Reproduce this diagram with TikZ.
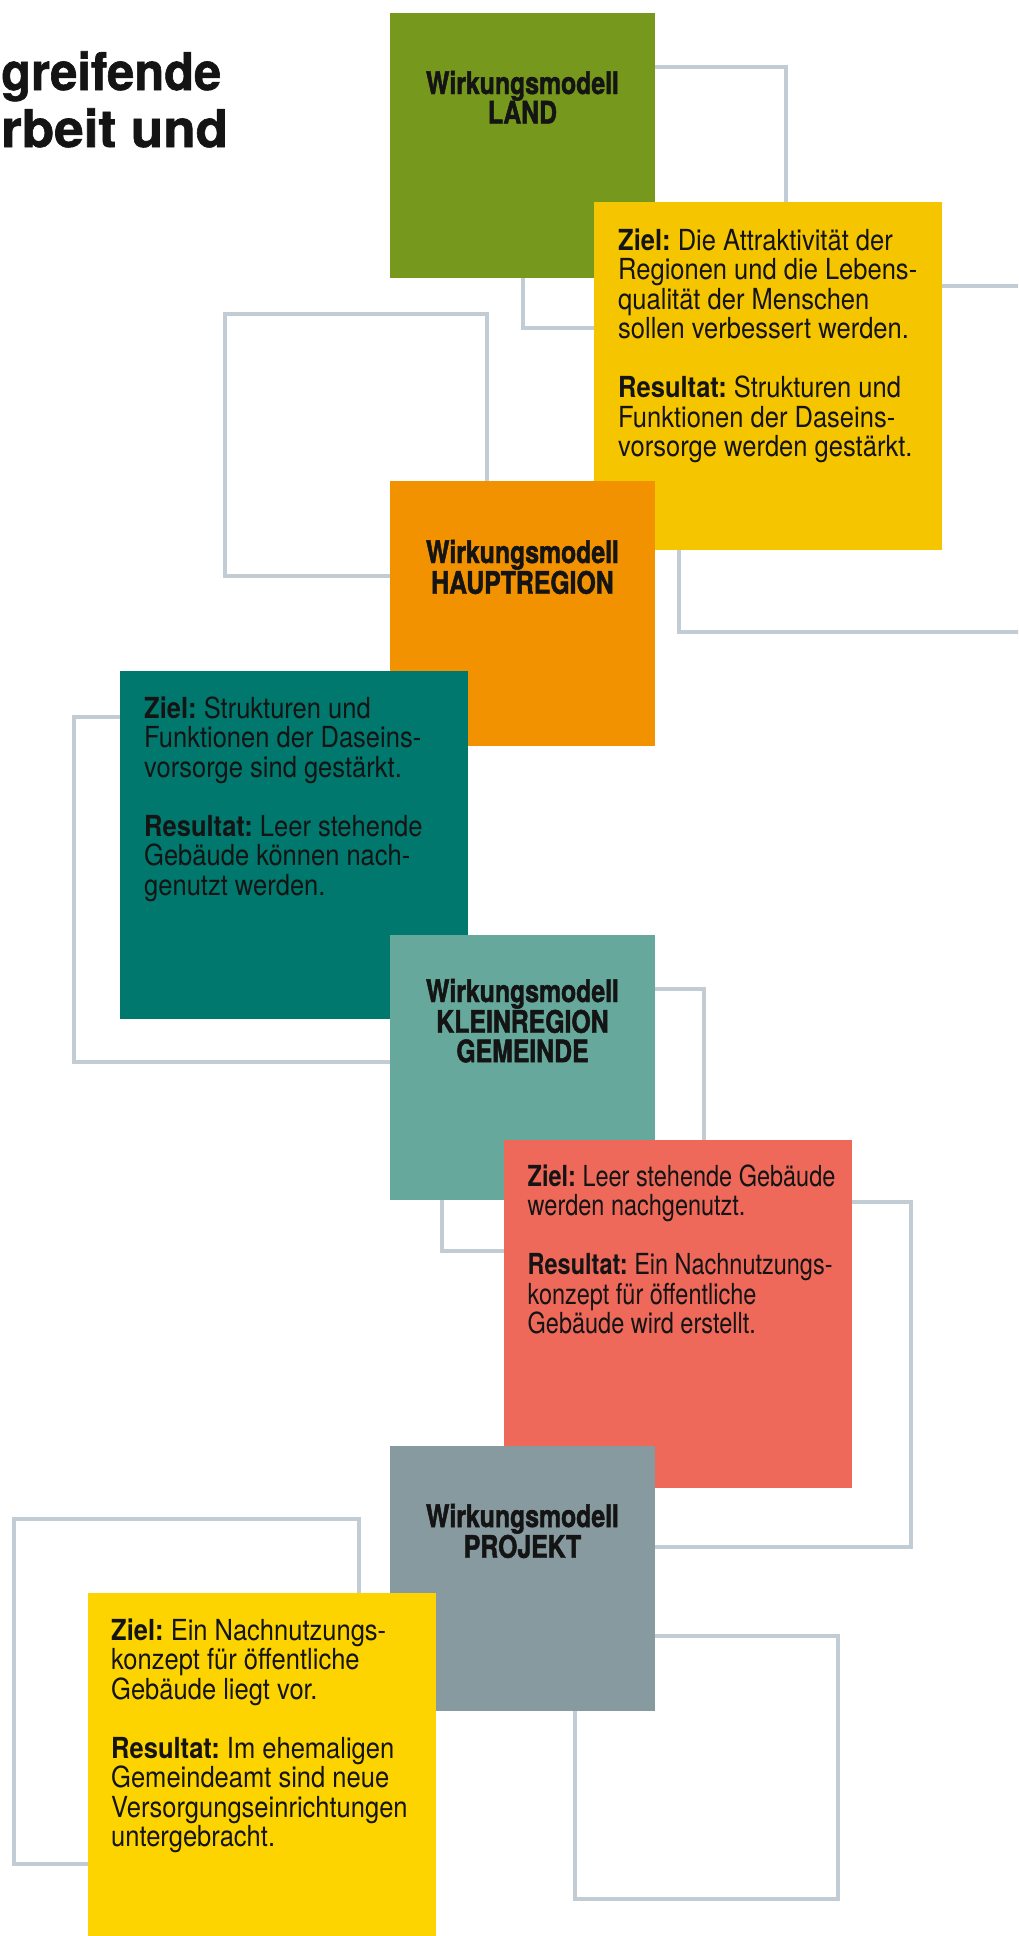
\documentclass[tikz,border=0pt]{standalone}
\usepackage{fontspec}
\setmainfont{TeX Gyre Heros}[FakeStretch=0.88]
\newfontfamily\bodynarrow{TeX Gyre Heros}[FakeStretch=0.81]
\newfontfamily\hdfont{TeX Gyre Heros}[FakeStretch=0.8, BoldFeatures={FakeBold=1.5}]
\newfontfamily\ttlfont{TeX Gyre Heros}[FakeStretch=0.94, BoldFeatures={FakeBold=1.2}]
\newfontfamily\ttlfontw{TeX Gyre Heros}[FakeStretch=1.02, BoldFeatures={FakeBold=1.2}]
\definecolor{cGreen}{HTML}{76981C}
\definecolor{cYelA}{HTML}{F5C500}
\definecolor{cOrange}{HTML}{F29200}
\definecolor{cTealD}{HTML}{00786D}
\definecolor{cTealL}{HTML}{66A99C}
\definecolor{cSalmon}{HTML}{EE695A}
\definecolor{cGrayB}{HTML}{869AA0}
\definecolor{cYelB}{HTML}{FDD400}
\definecolor{cLine}{HTML}{C2CCD5}
\definecolor{cInk}{HTML}{141414}
\frenchspacing
\newcommand{\bodytext}[1]{\parbox[t]{380pt}{\frenchspacing\fontsize{29}{29.5}\selectfont\raggedright #1}}
\newcommand{\headtext}[1]{\parbox[t]{265pt}{\hdfont\bfseries\fontsize{31}{29.5}\selectfont\centering #1}}
\newcommand{\gap}{\\[29.5pt]}
\tikzset{
  modelbox/.style={draw=none, inner sep=0pt, anchor=north west, minimum width=265pt, minimum height=265pt},
  textbox/.style={draw=none, inner sep=0pt, anchor=north west, minimum width=348pt, minimum height=348pt},
  outline/.style={draw=cLine, line width=3.2pt},
  headlbl/.style={inner sep=0pt, anchor=base, text=cInk},
  bodylbl/.style={inner sep=0pt, anchor=base west, text=cInk},
  titlelbl/.style={inner sep=0pt, anchor=base west, text=cInk}
}
\begin{document}
\begin{tikzpicture}[x=1pt, y=-1pt]
\useasboundingbox (0,0) rectangle (1018,1936);
\clip (0,0) rectangle (1018,1936);
\fill[white] (0,0) rectangle (1018,1936);

% outline squares (background)
\draw[outline] (523,67) rectangle (786,328);
\draw[outline] (225,314) rectangle (487,576);
\draw[outline] (679,286) rectangle (1030,632);
\draw[outline] (74,717) rectangle (419,1062);
\draw[outline] (442,989) rectangle (704,1251);
\draw[outline] (566,1202) rectangle (911,1547);
\draw[outline] (14,1519) rectangle (359,1864);
\draw[outline] (575,1636) rectangle (838,1899);

% title fragment
\node[titlelbl, font=\ttlfont\bfseries\fontsize{52}{57}\selectfont] (title1) at (1,90) {greifende};
\node[titlelbl, font=\ttlfontw\bfseries\fontsize{52}{57}\selectfont] (title2) at (1,147) {rbeit und};

% LAND
\node[modelbox, fill=cGreen] (land) at (390,13) {};
\node[headlbl] (landT) at (522.5,94) {\headtext{Wirkungsmodell\\LAND}};
\node[textbox, fill=cYelA] (zielA) at (594,202) {};
\node[bodylbl] (zielAT) at (618,250) {\bodytext{\textbf{Ziel:} Die Attraktivität der\\Regionen und die Lebens-\\qualität der Menschen\\sollen verbessert werden.\gap\textbf{Resultat:} Strukturen und\\Funktionen der Daseins-\\vorsorge werden gestärkt.}};

% HAUPTREGION
\node[modelbox, fill=cOrange] (haupt) at (390,481) {};
\node[headlbl] (hauptT) at (522.5,563) {\headtext{Wirkungsmodell\\HAUPTREGION}};
\node[textbox, fill=cTealD] (zielB) at (120,671) {};
\node[bodylbl] (zielBT) at (144,718) {\bodytext{\textbf{Ziel:} Strukturen und\\Funktionen der Daseins-\\vorsorge sind gestärkt.\gap\textbf{Resultat:} Leer stehende\\Gebäude können nach-\\genutzt werden.}};

% KLEINREGION
\node[modelbox, fill=cTealL] (klein) at (390,935) {};
\node[headlbl] (kleinT) at (522.5,1002) {\headtext{Wirkungsmodell\\KLEINREGION\\GEMEINDE}};
\node[textbox, fill=cSalmon] (zielC) at (504,1140) {};
\node[bodylbl] (zielCT) at (527.5,1186) {\bodytext{\bodynarrow\textbf{Ziel:} Leer stehende Gebäude\\werden nachgenutzt.\gap\textbf{Resultat:} Ein Nachnutzungs-\\konzept für öffentliche\\Gebäude wird erstellt.}};

% PROJEKT
\node[modelbox, fill=cGrayB] (projekt) at (390,1446) {};
\node[headlbl] (projektT) at (522.5,1527) {\headtext{Wirkungsmodell\\PROJEKT}};
\node[textbox, fill=cYelB] (zielD) at (88,1593) {};
\node[bodylbl] (zielDT) at (111,1640) {\bodytext{\textbf{Ziel:} Ein Nachnutzungs-\\konzept für öffentliche\\Gebäude liegt vor.\gap\textbf{Resultat:} Im ehemaligen\\Gemeindeamt sind neue\\Versorgungseinrichtungen\\untergebracht.}};
\end{tikzpicture}
\end{document}
